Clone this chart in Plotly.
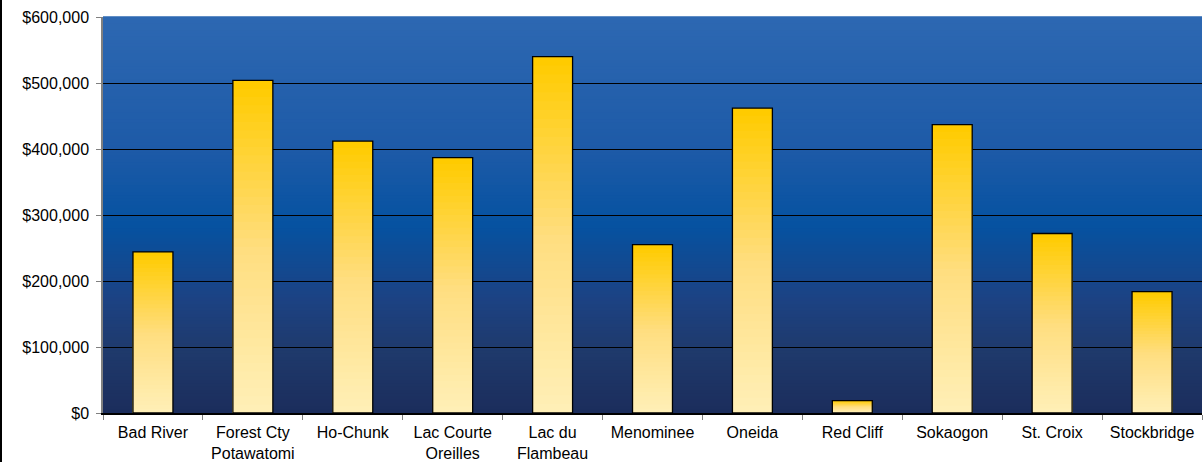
import plotly.graph_objects as go

categories = ["Bad River", "Forest Cty<br>Potawatomi", "Ho-Chunk", "Lac Courte<br>Oreilles",
              "Lac du<br>Flambeau", "Menominee", "Oneida", "Red Cliff", "Sokaogon",
              "St. Croix", "Stockbridge"]
values = [244000, 504000, 412000, 387000, 540000, 255000, 462000, 18700, 437000, 272000, 184000]
y_ticks = [0, 100000, 200000, 300000, 400000, 500000, 600000]
y_tick_text = ["$" + format(v, ",") for v in y_ticks]


def lerp_stops(stops, t):
    for i in range(len(stops) - 1):
        t0, c0 = stops[i]
        t1, c1 = stops[i + 1]
        if t0 <= t <= t1:
            u = (t - t0) / (t1 - t0) if t1 > t0 else 0
            return tuple(int(round(c0[k] + (c1[k] - c0[k]) * u)) for k in range(3))
    return stops[-1][1]


def rgb(c):
    return "rgb(%d,%d,%d)" % c


bg_stops = [(0.0, (27, 45, 92)), (0.16, (31, 58, 108)), (0.285, (28, 66, 131)),
            (0.475, (5, 82, 161)), (0.66, (29, 90, 167)), (1.0, (45, 104, 178))]
bar_stops = [(0.0, (255, 240, 185)), (0.5, (255, 222, 128)), (1.0, (255, 203, 0))]

fig = go.Figure()

N = 40
for i in range(N, 0, -1):
    f = i / N
    fig.add_trace(go.Bar(
        x=categories, y=[v * f for v in values],
        marker=dict(color=rgb(lerp_stops(bar_stops, f)), line=dict(width=0)),
        showlegend=False, hoverinfo="skip"))

fig.add_trace(go.Bar(
    x=categories, y=values,
    marker=dict(color="rgba(0,0,0,0)", line=dict(color="black", width=1.3)),
    showlegend=False))

shapes = []
M = 120
for j in range(M):
    t0 = j / M
    t1 = (j + 1) / M
    c = lerp_stops(bg_stops, (t0 + t1) / 2)
    shapes.append(dict(type="rect", xref="paper", yref="paper", x0=0, x1=1, y0=t0, y1=t1 + 0.002,
                       fillcolor=rgb(c), line=dict(width=0), layer="below"))
# outer left border line
shapes.append(dict(type="line", xref="paper", yref="paper", x0=-102 / 1099, x1=-102 / 1099,
                   y0=-49 / 396, y1=1 + 17 / 396, line=dict(color="black", width=2)))

fig.update_layout(
    width=1204, height=462,
    margin=dict(l=103, r=2, t=17, b=49),
    barmode="overlay", bargap=0.6,
    paper_bgcolor="white", plot_bgcolor="rgba(0,0,0,0)",
    font=dict(family="Liberation Sans, Arial, sans-serif", size=16, color="black"),
    shapes=shapes,
    xaxis=dict(type="category", showgrid=False, showline=True, linecolor="black", linewidth=1.5,
               ticks="outside", tickson="boundaries", ticklen=5, tickcolor="#808080",
               tickfont=dict(size=16), tickangle=0, ticklabelstandoff=4, automargin=False),
    yaxis=dict(range=[0, 600000], tickvals=y_ticks, ticktext=y_tick_text,
               showgrid=True, gridcolor="black", gridwidth=1.2, zeroline=False,
               showline=True, linecolor="#808080", linewidth=1.5,
               ticks="outside", ticklen=5, tickcolor="#808080", tickfont=dict(size=16),
               ticklabelstandoff=4, automargin=False),
)

fig.write_html("out.html")
